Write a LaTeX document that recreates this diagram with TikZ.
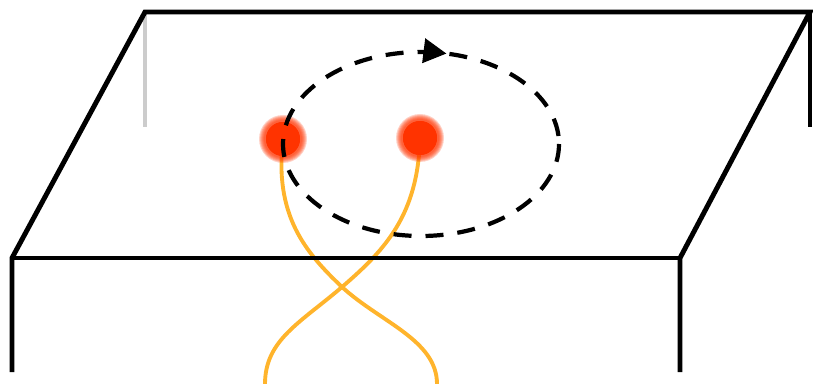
\documentclass[tikz,border=0pt]{standalone}
\usepackage{xcolor}
\usetikzlibrary{arrows.meta,decorations.markings}
\definecolor{blobred}{HTML}{FF3300}
\definecolor{strandorange}{HTML}{FFB42C}
\definecolor{backgray}{HTML}{CCCCCC}

\begin{document}
\begin{tikzpicture}[x=0.02cm, y=-0.02cm, line width=2.8pt,
  quasi/.style={circle, fill=blobred, minimum size=0.68cm, inner sep=0pt},
  strand/.style={strandorange, line width=2.2pt},
  orbit/.style={line width=2.4pt, dash pattern=on 0.36cm off 0.28cm,
    postaction={decorate}, decoration={markings,
      mark=at position 0.785 with {\arrow{Triangle[length=0.46cm, width=0.48cm]}}}}]
\useasboundingbox (0,0) rectangle (813,384);

% plane corners
\coordinate (bl) at (145,12);
\coordinate (br) at (810,12);
\coordinate (fl) at (12,258);
\coordinate (fr) at (680,258);
\coordinate (bld) at (145,127);
\coordinate (brd) at (810,127);
\coordinate (fld) at (12,372);
\coordinate (frd) at (680,372);

% excitations and their world lines
\node[quasi] (lq) at (283,139) {};
\node[quasi] (rq) at (420,138) {};
\coordinate (lend) at (437,384);
\coordinate (rend) at (265,384);
\coordinate (cross) at (342,287);

\draw[strand] (lq.center) .. controls (274,215) and (305,252) .. (cross)
  .. controls (380,322) and (437,340) .. (lend);
\draw[strand] (rq.center) .. controls (418,215) and (385,250) .. (cross)
  .. controls (300,323) and (265,340) .. (rend);

\foreach \q in {lq,rq}
  \foreach \r in {24,23,22,21,20,19}
    \fill[blobred, opacity=0.22] (\q) circle (\r);
\node[quasi] at (lq) {};
\node[quasi] at (rq) {};

% the plane
\draw[backgray] (bl) -- (bld);
\draw (fld) -- (fl) -- (bl) -- (br) -- (fr) -- (frd);
\draw (fl) -- (fr);
\draw (br) -- (brd);

% braiding path
\coordinate (oc) at (421,144);
\draw[orbit] (oc) ellipse [x radius=138, y radius=92];
\end{tikzpicture}
\end{document}
